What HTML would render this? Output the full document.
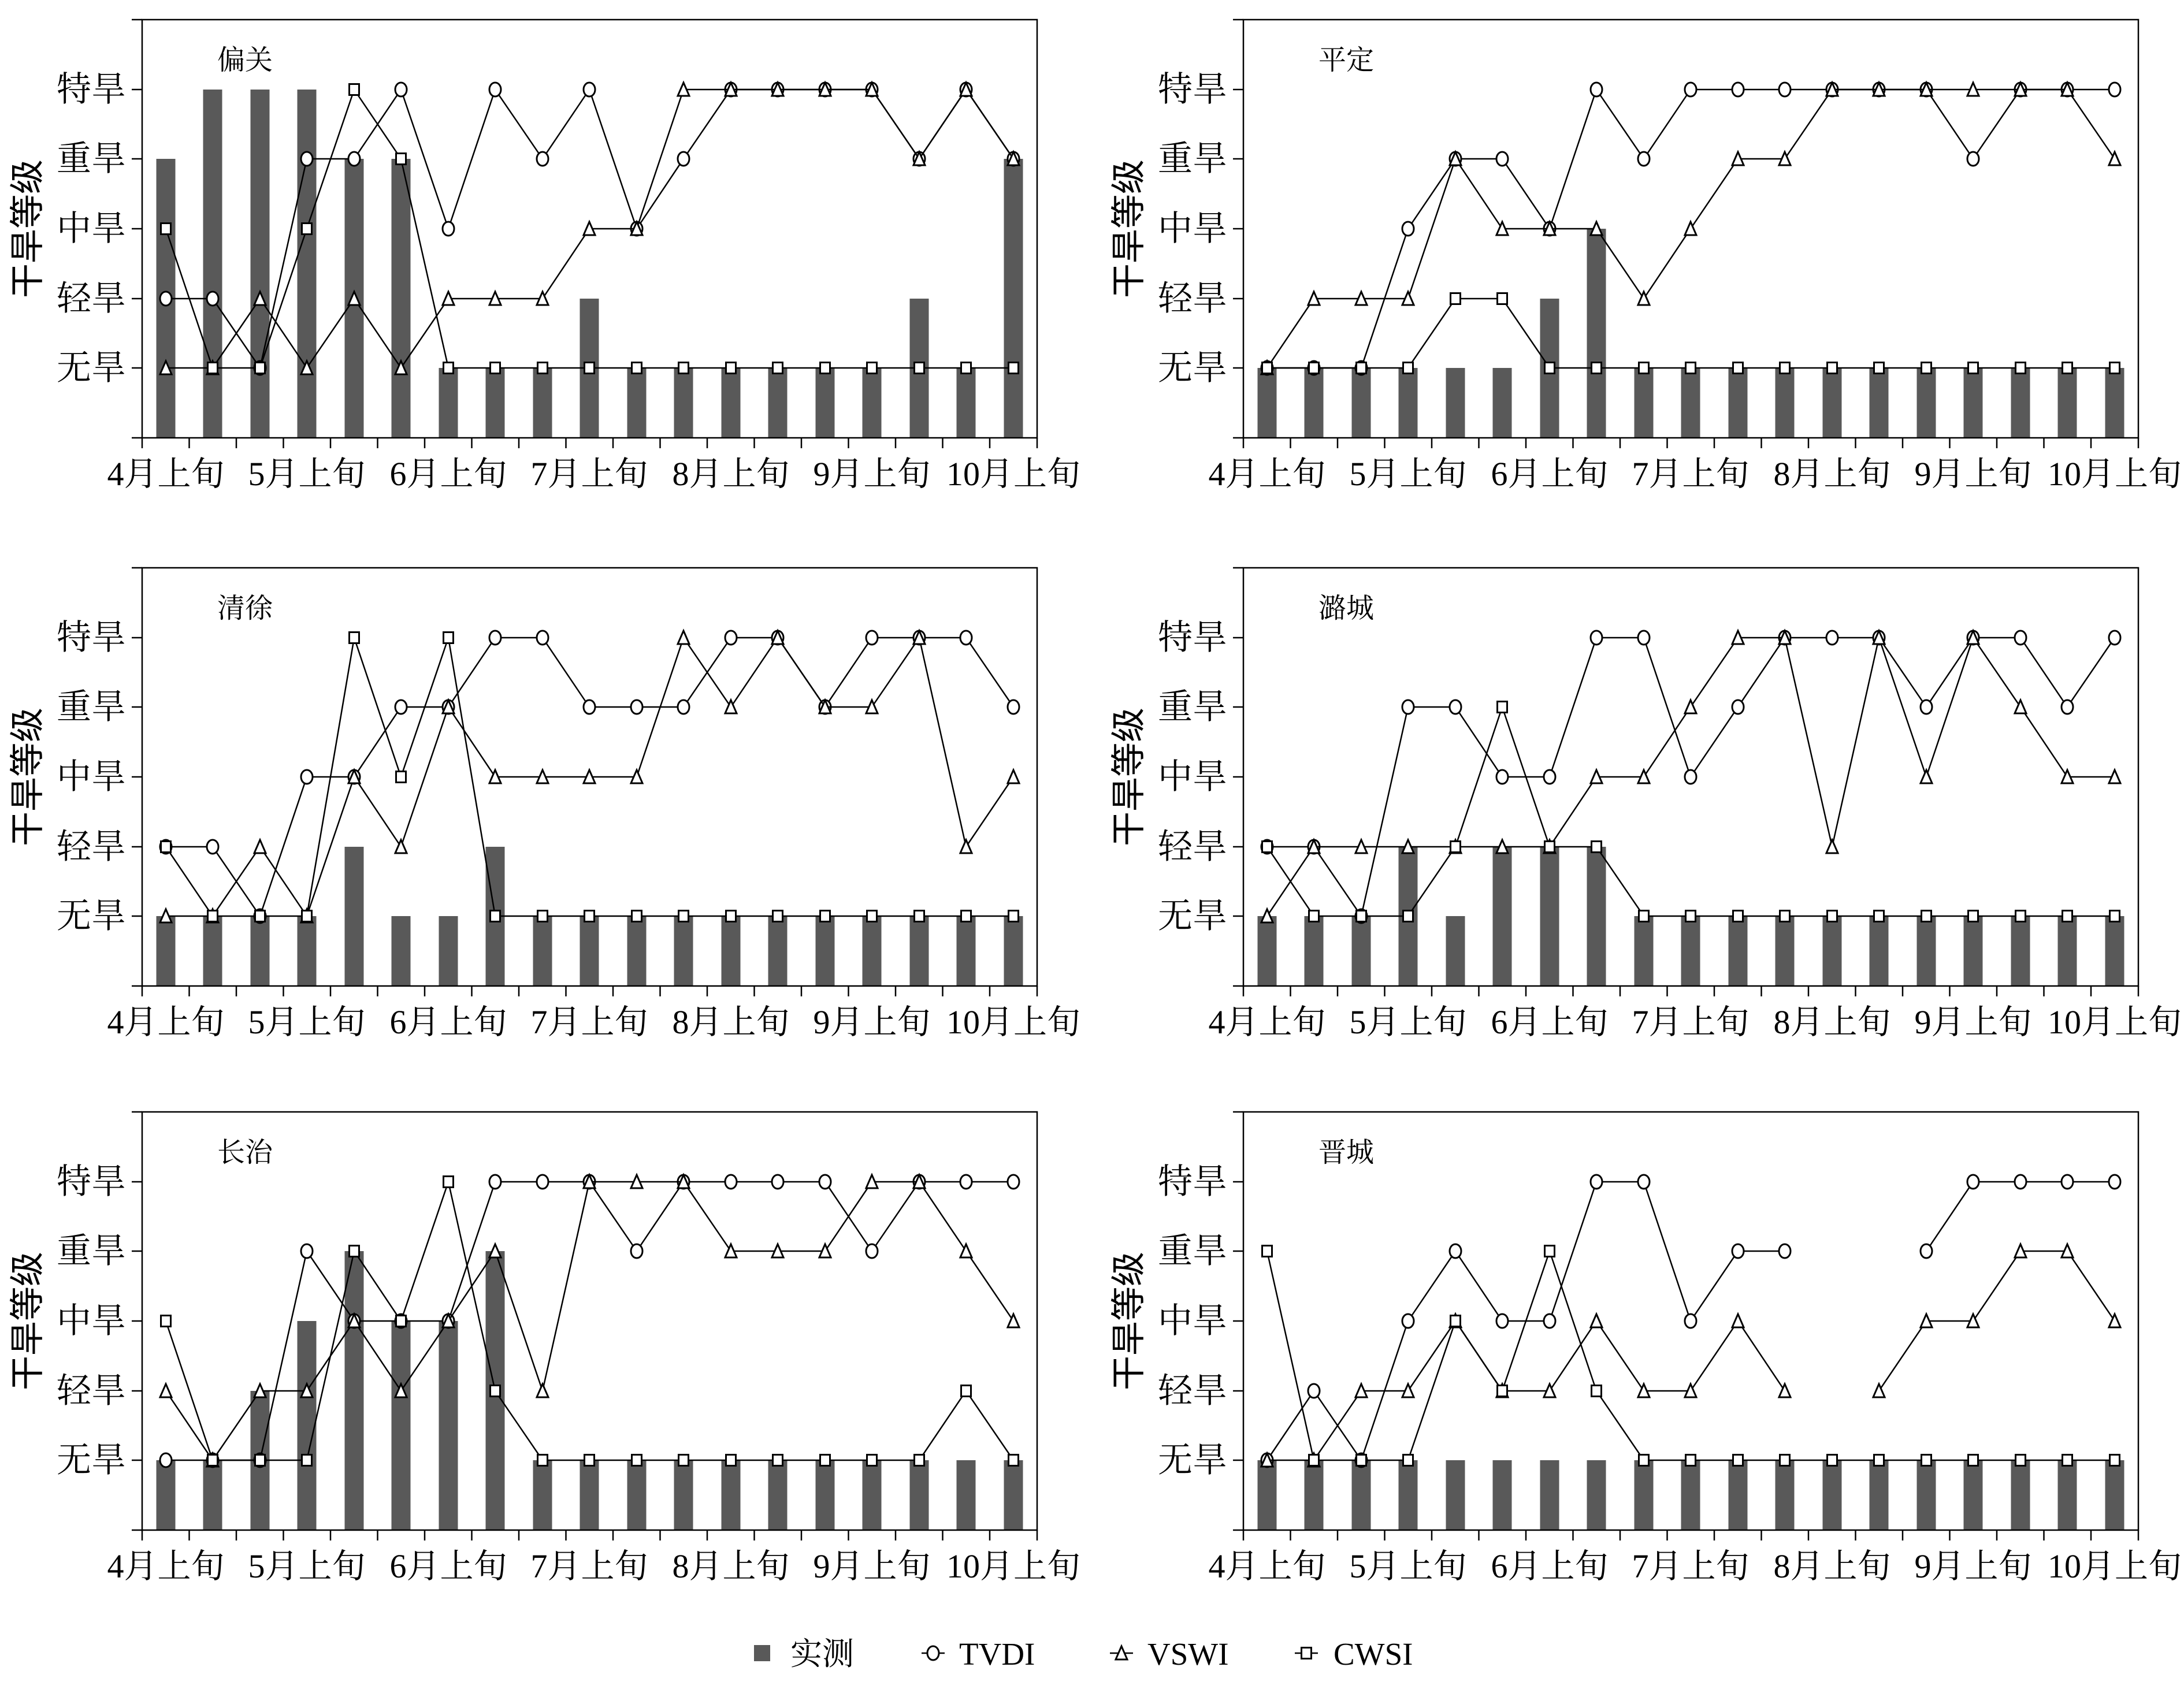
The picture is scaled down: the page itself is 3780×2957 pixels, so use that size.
<!DOCTYPE html>
<html><head><meta charset="utf-8"><style>
html,body{margin:0;padding:0;background:#fff}
svg{display:block}
.t{font-family:"Liberation Serif","Noto Serif CJK SC",serif;font-size:60px;fill:#000}
.x{font-family:"Liberation Serif","Noto Serif CJK SC",serif;font-size:58px;fill:#000;text-anchor:middle}
.st{font-family:"Liberation Serif","Noto Serif CJK SC",serif;font-size:48px;fill:#000}
.yt{font-family:"Liberation Sans","Noto Sans CJK SC",sans-serif;font-size:60px;fill:#000;text-anchor:middle}
.bar{stroke:#595959;stroke-width:33;fill:none}
.ax{fill:none;stroke:#000;stroke-width:2.5}
.s{fill:none;stroke:#000;stroke-width:2.5}
.c{marker-start:url(#mc);marker-mid:url(#mc);marker-end:url(#mc)}
.v{marker-start:url(#mt);marker-mid:url(#mt);marker-end:url(#mt)}
.q{marker-start:url(#ms);marker-mid:url(#ms);marker-end:url(#ms)}
.lc{marker-mid:url(#mc)}
.lv{marker-mid:url(#mt)}
.lq{marker-mid:url(#ms)}
</style></head><body>
<svg width="3780" height="2957" viewBox="0 0 3780 2957" xmlns="http://www.w3.org/2000/svg">
<defs>
<marker id="mc" markerUnits="userSpaceOnUse" markerWidth="30" markerHeight="30" refX="15" refY="15" viewBox="0 0 30 30" overflow="visible"><ellipse cx="15" cy="15" rx="10" ry="12" fill="#fff" stroke="#000" stroke-width="3"/></marker>
<marker id="mt" markerUnits="userSpaceOnUse" markerWidth="30" markerHeight="30" refX="15" refY="15" viewBox="0 0 30 30" overflow="visible"><polygon points="15,3 25,26 5,26" fill="#fff" stroke="#000" stroke-width="3"/></marker>
<marker id="ms" markerUnits="userSpaceOnUse" markerWidth="30" markerHeight="30" refX="15" refY="15" viewBox="0 0 30 30" overflow="visible"><rect x="6.5" y="5.5" width="17" height="19" fill="#fff" stroke="#000" stroke-width="3"/></marker>
</defs>

<!-- 偏关 -->
<g transform="translate(246,34)">
<path class="bar" d="M41 724V241M122 724V121M204 724V121M285 724V121M367 724V241M448 724V241M530 724V603M611 724V603M693 724V603M774 724V483M856 724V603M937 724V603M1019 724V603M1100 724V603M1182 724V603M1263 724V603M1345 724V483M1426 724V603M1508 724V241"/>
<rect class="ax" x="0" y="0" width="1549" height="724"/>
<path class="ax" d="M-18 0H0M-18 121H0M-18 241H0M-18 362H0M-18 483H0M-18 603H0M-18 724H0M0 724V742M81.5 724V742M163 724V742M244.5 724V742M326 724V742M407.5 724V742M489 724V742M570.5 724V742M652 724V742M733.5 724V742M815 724V742M896.5 724V742M978 724V742M1059.5 724V742M1141 724V742M1222.5 724V742M1304 724V742M1385.5 724V742M1467 724V742M1549 724V742"/>
<polyline class="s c" points="41,483 122,483 204,603 285,241 367,241 448,121 530,362 611,121 693,241 774,121 856,362 937,241 1019,121 1100,121 1182,121 1263,121 1345,241 1426,121 1508,241"/>
<polyline class="s v" points="41,603 122,603 204,483 285,603 367,483 448,603 530,483 611,483 693,483 774,362 856,362 937,121 1019,121 1100,121 1182,121 1263,121 1345,241 1426,121 1508,241"/>
<polyline class="s q" points="41,362 122,603 204,603 285,362 367,121 448,241 530,603 611,603 693,603 774,603 856,603 937,603 1019,603 1100,603 1182,603 1263,603 1345,603 1426,603 1508,603"/>
<text class="t" text-anchor="end" x="-28" y="141">特旱</text><text class="t" text-anchor="end" x="-28" y="261">重旱</text><text class="t" text-anchor="end" x="-28" y="382">中旱</text><text class="t" text-anchor="end" x="-28" y="503">轻旱</text><text class="t" text-anchor="end" x="-28" y="623">无旱</text>
<text class="x" x="41" y="806">4月上旬</text><text class="x" x="285" y="806">5月上旬</text><text class="x" x="530" y="806">6月上旬</text><text class="x" x="774" y="806">7月上旬</text><text class="x" x="1019" y="806">8月上旬</text><text class="x" x="1263" y="806">9月上旬</text><text class="x" x="1508" y="806">10月上旬</text>
<text class="st" x="130" y="86">偏关</text>
<text class="yt" transform="translate(-198,362) rotate(-90)" y="20">干旱等级</text>
</g>

<!-- 平定 -->
<g transform="translate(2152,34)">
<path class="bar" d="M41 724V603M122 724V603M204 724V603M285 724V603M367 724V603M448 724V603M530 724V483M611 724V362M693 724V603M774 724V603M856 724V603M937 724V603M1019 724V603M1100 724V603M1182 724V603M1263 724V603M1345 724V603M1426 724V603M1508 724V603"/>
<rect class="ax" x="0" y="0" width="1549" height="724"/>
<path class="ax" d="M-18 0H0M-18 121H0M-18 241H0M-18 362H0M-18 483H0M-18 603H0M-18 724H0M0 724V742M81.5 724V742M163 724V742M244.5 724V742M326 724V742M407.5 724V742M489 724V742M570.5 724V742M652 724V742M733.5 724V742M815 724V742M896.5 724V742M978 724V742M1059.5 724V742M1141 724V742M1222.5 724V742M1304 724V742M1385.5 724V742M1467 724V742M1549 724V742"/>
<polyline class="s c" points="41,603 122,603 204,603 285,362 367,241 448,241 530,362 611,121 693,241 774,121 856,121 937,121 1019,121 1100,121 1182,121 1263,241 1345,121 1426,121 1508,121"/>
<polyline class="s v" points="41,603 122,483 204,483 285,483 367,241 448,362 530,362 611,362 693,483 774,362 856,241 937,241 1019,121 1100,121 1182,121 1263,121 1345,121 1426,121 1508,241"/>
<polyline class="s q" points="41,603 122,603 204,603 285,603 367,483 448,483 530,603 611,603 693,603 774,603 856,603 937,603 1019,603 1100,603 1182,603 1263,603 1345,603 1426,603 1508,603"/>
<text class="t" text-anchor="end" x="-28" y="141">特旱</text><text class="t" text-anchor="end" x="-28" y="261">重旱</text><text class="t" text-anchor="end" x="-28" y="382">中旱</text><text class="t" text-anchor="end" x="-28" y="503">轻旱</text><text class="t" text-anchor="end" x="-28" y="623">无旱</text>
<text class="x" x="41" y="806">4月上旬</text><text class="x" x="285" y="806">5月上旬</text><text class="x" x="530" y="806">6月上旬</text><text class="x" x="774" y="806">7月上旬</text><text class="x" x="1019" y="806">8月上旬</text><text class="x" x="1263" y="806">9月上旬</text><text class="x" x="1508" y="806">10月上旬</text>
<text class="st" x="130" y="86">平定</text>
<text class="yt" transform="translate(-198,362) rotate(-90)" y="20">干旱等级</text>
</g>

<!-- 清徐 -->
<g transform="translate(246,983)">
<path class="bar" d="M41 724V603M122 724V603M204 724V603M285 724V603M367 724V483M448 724V603M530 724V603M611 724V483M693 724V603M774 724V603M856 724V603M937 724V603M1019 724V603M1100 724V603M1182 724V603M1263 724V603M1345 724V603M1426 724V603M1508 724V603"/>
<rect class="ax" x="0" y="0" width="1549" height="724"/>
<path class="ax" d="M-18 0H0M-18 121H0M-18 241H0M-18 362H0M-18 483H0M-18 603H0M-18 724H0M0 724V742M81.5 724V742M163 724V742M244.5 724V742M326 724V742M407.5 724V742M489 724V742M570.5 724V742M652 724V742M733.5 724V742M815 724V742M896.5 724V742M978 724V742M1059.5 724V742M1141 724V742M1222.5 724V742M1304 724V742M1385.5 724V742M1467 724V742M1549 724V742"/>
<polyline class="s c" points="41,483 122,483 204,603 285,362 367,362 448,241 530,241 611,121 693,121 774,241 856,241 937,241 1019,121 1100,121 1182,241 1263,121 1345,121 1426,121 1508,241"/>
<polyline class="s v" points="41,603 122,603 204,483 285,603 367,362 448,483 530,241 611,362 693,362 774,362 856,362 937,121 1019,241 1100,121 1182,241 1263,241 1345,121 1426,483 1508,362"/>
<polyline class="s q" points="41,483 122,603 204,603 285,603 367,121 448,362 530,121 611,603 693,603 774,603 856,603 937,603 1019,603 1100,603 1182,603 1263,603 1345,603 1426,603 1508,603"/>
<text class="t" text-anchor="end" x="-28" y="141">特旱</text><text class="t" text-anchor="end" x="-28" y="261">重旱</text><text class="t" text-anchor="end" x="-28" y="382">中旱</text><text class="t" text-anchor="end" x="-28" y="503">轻旱</text><text class="t" text-anchor="end" x="-28" y="623">无旱</text>
<text class="x" x="41" y="806">4月上旬</text><text class="x" x="285" y="806">5月上旬</text><text class="x" x="530" y="806">6月上旬</text><text class="x" x="774" y="806">7月上旬</text><text class="x" x="1019" y="806">8月上旬</text><text class="x" x="1263" y="806">9月上旬</text><text class="x" x="1508" y="806">10月上旬</text>
<text class="st" x="130" y="86">清徐</text>
<text class="yt" transform="translate(-198,362) rotate(-90)" y="20">干旱等级</text>
</g>

<!-- 潞城 -->
<g transform="translate(2152,983)">
<path class="bar" d="M41 724V603M122 724V603M204 724V603M285 724V483M367 724V603M448 724V483M530 724V483M611 724V483M693 724V603M774 724V603M856 724V603M937 724V603M1019 724V603M1100 724V603M1182 724V603M1263 724V603M1345 724V603M1426 724V603M1508 724V603"/>
<rect class="ax" x="0" y="0" width="1549" height="724"/>
<path class="ax" d="M-18 0H0M-18 121H0M-18 241H0M-18 362H0M-18 483H0M-18 603H0M-18 724H0M0 724V742M81.5 724V742M163 724V742M244.5 724V742M326 724V742M407.5 724V742M489 724V742M570.5 724V742M652 724V742M733.5 724V742M815 724V742M896.5 724V742M978 724V742M1059.5 724V742M1141 724V742M1222.5 724V742M1304 724V742M1385.5 724V742M1467 724V742M1549 724V742"/>
<polyline class="s c" points="41,483 122,483 204,603 285,241 367,241 448,362 530,362 611,121 693,121 774,362 856,241 937,121 1019,121 1100,121 1182,241 1263,121 1345,121 1426,241 1508,121"/>
<polyline class="s v" points="41,603 122,483 204,483 285,483 367,483 448,483 530,483 611,362 693,362 774,241 856,121 937,121 1019,483 1100,121 1182,362 1263,121 1345,241 1426,362 1508,362"/>
<polyline class="s q" points="41,483 122,603 204,603 285,603 367,483 448,241 530,483 611,483 693,603 774,603 856,603 937,603 1019,603 1100,603 1182,603 1263,603 1345,603 1426,603 1508,603"/>
<text class="t" text-anchor="end" x="-28" y="141">特旱</text><text class="t" text-anchor="end" x="-28" y="261">重旱</text><text class="t" text-anchor="end" x="-28" y="382">中旱</text><text class="t" text-anchor="end" x="-28" y="503">轻旱</text><text class="t" text-anchor="end" x="-28" y="623">无旱</text>
<text class="x" x="41" y="806">4月上旬</text><text class="x" x="285" y="806">5月上旬</text><text class="x" x="530" y="806">6月上旬</text><text class="x" x="774" y="806">7月上旬</text><text class="x" x="1019" y="806">8月上旬</text><text class="x" x="1263" y="806">9月上旬</text><text class="x" x="1508" y="806">10月上旬</text>
<text class="st" x="130" y="86">潞城</text>
<text class="yt" transform="translate(-198,362) rotate(-90)" y="20">干旱等级</text>
</g>

<!-- 长治 -->
<g transform="translate(246,1925)">
<path class="bar" d="M41 724V603M122 724V603M204 724V483M285 724V362M367 724V241M448 724V362M530 724V362M611 724V241M693 724V603M774 724V603M856 724V603M937 724V603M1019 724V603M1100 724V603M1182 724V603M1263 724V603M1345 724V603M1426 724V603M1508 724V603"/>
<rect class="ax" x="0" y="0" width="1549" height="724"/>
<path class="ax" d="M-18 0H0M-18 121H0M-18 241H0M-18 362H0M-18 483H0M-18 603H0M-18 724H0M0 724V742M81.5 724V742M163 724V742M244.5 724V742M326 724V742M407.5 724V742M489 724V742M570.5 724V742M652 724V742M733.5 724V742M815 724V742M896.5 724V742M978 724V742M1059.5 724V742M1141 724V742M1222.5 724V742M1304 724V742M1385.5 724V742M1467 724V742M1549 724V742"/>
<polyline class="s c" points="41,603 122,603 204,603 285,241 367,362 448,362 530,362 611,121 693,121 774,121 856,241 937,121 1019,121 1100,121 1182,121 1263,241 1345,121 1426,121 1508,121"/>
<polyline class="s v" points="41,483 122,603 204,483 285,483 367,362 448,483 530,362 611,241 693,483 774,121 856,121 937,121 1019,241 1100,241 1182,241 1263,121 1345,121 1426,241 1508,362"/>
<polyline class="s q" points="41,362 122,603 204,603 285,603 367,241 448,362 530,121 611,483 693,603 774,603 856,603 937,603 1019,603 1100,603 1182,603 1263,603 1345,603 1426,483 1508,603"/>
<text class="t" text-anchor="end" x="-28" y="141">特旱</text><text class="t" text-anchor="end" x="-28" y="261">重旱</text><text class="t" text-anchor="end" x="-28" y="382">中旱</text><text class="t" text-anchor="end" x="-28" y="503">轻旱</text><text class="t" text-anchor="end" x="-28" y="623">无旱</text>
<text class="x" x="41" y="806">4月上旬</text><text class="x" x="285" y="806">5月上旬</text><text class="x" x="530" y="806">6月上旬</text><text class="x" x="774" y="806">7月上旬</text><text class="x" x="1019" y="806">8月上旬</text><text class="x" x="1263" y="806">9月上旬</text><text class="x" x="1508" y="806">10月上旬</text>
<text class="st" x="130" y="86">长治</text>
<text class="yt" transform="translate(-198,362) rotate(-90)" y="20">干旱等级</text>
</g>

<!-- 晋城 -->
<g transform="translate(2152,1925)">
<path class="bar" d="M41 724V603M122 724V603M204 724V603M285 724V603M367 724V603M448 724V603M530 724V603M611 724V603M693 724V603M774 724V603M856 724V603M937 724V603M1019 724V603M1100 724V603M1182 724V603M1263 724V603M1345 724V603M1426 724V603M1508 724V603"/>
<rect class="ax" x="0" y="0" width="1549" height="724"/>
<path class="ax" d="M-18 0H0M-18 121H0M-18 241H0M-18 362H0M-18 483H0M-18 603H0M-18 724H0M0 724V742M81.5 724V742M163 724V742M244.5 724V742M326 724V742M407.5 724V742M489 724V742M570.5 724V742M652 724V742M733.5 724V742M815 724V742M896.5 724V742M978 724V742M1059.5 724V742M1141 724V742M1222.5 724V742M1304 724V742M1385.5 724V742M1467 724V742M1549 724V742"/>
<polyline class="s c" points="41,603 122,483 204,603 285,362 367,241 448,362 530,362 611,121 693,121 774,362 856,241 937,241"/>
<polyline class="s c" points="1182,241 1263,121 1345,121 1426,121 1508,121"/>
<polyline class="s v" points="41,603 122,603 204,483 285,483 367,362 448,483 530,483 611,362 693,483 774,483 856,362 937,483"/>
<polyline class="s v" points="1100,483 1182,362 1263,362 1345,241 1426,241 1508,362"/>
<polyline class="s q" points="41,241 122,603 204,603 285,603 367,362 448,483 530,241 611,483 693,603 774,603 856,603 937,603 1019,603 1100,603 1182,603 1263,603 1345,603 1426,603 1508,603"/>
<text class="t" text-anchor="end" x="-28" y="141">特旱</text><text class="t" text-anchor="end" x="-28" y="261">重旱</text><text class="t" text-anchor="end" x="-28" y="382">中旱</text><text class="t" text-anchor="end" x="-28" y="503">轻旱</text><text class="t" text-anchor="end" x="-28" y="623">无旱</text>
<text class="x" x="41" y="806">4月上旬</text><text class="x" x="285" y="806">5月上旬</text><text class="x" x="530" y="806">6月上旬</text><text class="x" x="774" y="806">7月上旬</text><text class="x" x="1019" y="806">8月上旬</text><text class="x" x="1263" y="806">9月上旬</text><text class="x" x="1508" y="806">10月上旬</text>
<text class="st" x="130" y="86">晋城</text>
<text class="yt" transform="translate(-198,362) rotate(-90)" y="20">干旱等级</text>
</g>

<!-- Legend -->
<rect x="1305" y="2848" width="28" height="28" fill="#595959"/>
<text class="t" style="font-size:55px" x="1368" y="2882">实测</text>
<polyline class="s lc" points="1595,2862 1615,2862 1635,2862"/>
<text class="t" style="font-size:55px" x="1660" y="2882">TVDI</text>
<polyline class="s lv" points="1921,2862 1941,2862 1961,2862"/>
<text class="t" style="font-size:55px" x="1986" y="2882">VSWI</text>
<polyline class="s lq" points="2241,2862 2261,2862 2281,2862"/>
<text class="t" style="font-size:55px" x="2308" y="2882">CWSI</text>
</svg>
</body></html>
